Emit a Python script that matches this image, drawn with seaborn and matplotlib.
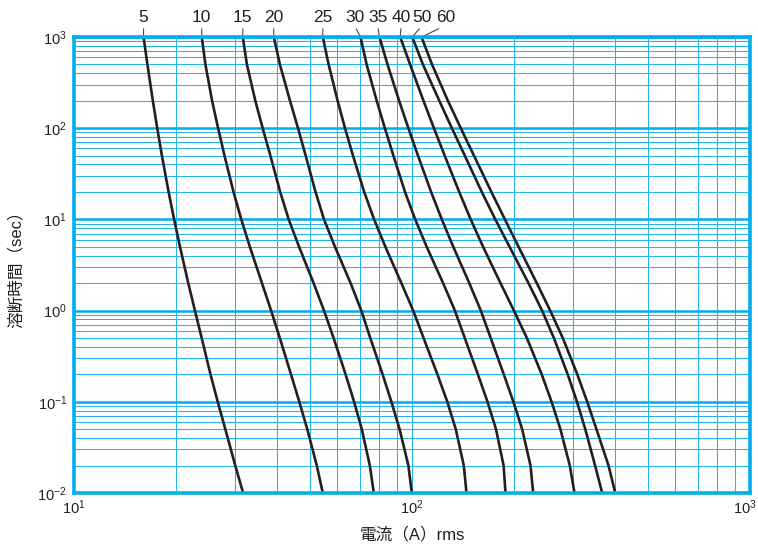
import matplotlib
matplotlib.use("Agg")
import matplotlib.pyplot as plt
from matplotlib.ticker import FixedLocator, FixedFormatter, LogLocator, NullFormatter
from matplotlib.transforms import ScaledTranslation
import pandas as pd
import seaborn as sns

# Melting-time checkpoints shared by every curve (sec)
times = [1000, 500, 200, 100, 50, 20, 10, 5, 2, 1, 0.5, 0.2, 0.1, 0.05, 0.02, 0.01]

# Current (A rms) at which each fuse rating melts at the checkpoints above
amp_5 = [16.06, 16.49, 17.11, 17.63, 18.20, 19.05, 19.78, 20.59, 21.78, 22.79, 23.87, 25.34, 26.62, 28.04, 30.00, 31.65]
amp_10 = [23.88, 24.48, 25.62, 26.69, 27.88, 29.64, 31.26, 33.14, 35.99, 38.30, 40.64, 43.85, 46.41, 49.00, 52.28, 54.46]
amp_15 = [31.58, 32.47, 34.39, 36.16, 38.11, 40.74, 43.17, 46.34, 51.16, 54.91, 58.62, 63.61, 67.41, 71.04, 75.02, 77.09]
amp_20 = [39.00, 40.66, 43.56, 46.00, 48.47, 51.82, 54.91, 59.18, 65.82, 70.80, 75.27, 81.85, 86.91, 91.90, 97.58, 99.86]
amp_25 = [54.46, 56.66, 60.24, 63.36, 66.90, 72.20, 77.25, 83.43, 93.03, 100.82, 108.22, 118.89, 127.19, 134.77, 142.31, 144.96]
amp_30 = [70.42, 73.41, 78.63, 83.14, 88.10, 95.34, 102.21, 110.55, 123.60, 133.94, 143.29, 156.66, 167.25, 177.25, 186.64, 189.07]
amp_35 = [80.14, 84.63, 91.59, 97.58, 104.17, 113.89, 122.53, 132.49, 147.75, 159.79, 170.95, 186.89, 199.53, 211.86, 224.17, 228.32]
amp_40 = [92.27, 98.71, 108.14, 116.10, 124.96, 137.92, 149.16, 162.31, 182.74, 200.20, 218.74, 241.95, 258.83, 274.83, 292.99, 302.54]
amp_50 = [100.14, 107.71, 120.44, 131.23, 143.29, 160.88, 176.38, 194.43, 221.14, 242.61, 262.92, 288.82, 307.73, 325.62, 348.10, 365.37]
amp_60 = [106.69, 114.61, 127.71, 139.43, 152.56, 171.76, 188.31, 206.71, 234.00, 256.39, 279.37, 308.35, 329.86, 351.42, 381.37, 399.46]

ratings = ["5", "10", "15", "20", "25", "30", "35", "40", "50", "60"]
currents = [amp_5, amp_10, amp_15, amp_20, amp_25, amp_30, amp_35, amp_40, amp_50, amp_60]

x_ticks = [10, 100, 1000]
x_tick_labels = [r"$\mathregular{10^{1}}$", r"$\mathregular{10^{2}}$", r"$\mathregular{10^{3}}$"]
y_ticks = [0.01, 0.1, 1, 10, 100, 1000]
y_tick_labels = [r"$\mathregular{10^{-2}}$", r"$\mathregular{10^{-1}}$", r"$\mathregular{10^{0}}$",
                 r"$\mathregular{10^{1}}$", r"$\mathregular{10^{2}}$", r"$\mathregular{10^{3}}$"]

x_title = "電流（A）rms"
y_title = "溶断時間（sec）"

df = pd.concat(
    [pd.DataFrame({"rating": r, "current": c, "time": times}) for r, c in zip(ratings, currents)],
    ignore_index=True,
)

sns.set_theme(style="white")
plt.rcParams["font.family"] = ["Liberation Sans", "Noto Sans CJK JP", "DejaVu Sans"]

BLUE = "#00AEEF"
GRID = "#22B5EE"
INK = "#231F20"

fig = plt.figure(figsize=(7.58, 5.44), dpi=100)
ax = fig.add_axes([74 / 758, 1 - 493 / 544, 676 / 758, 456 / 544])

sns.lineplot(
    data=df, x="current", y="time", hue="rating",
    palette=[INK] * len(ratings), estimator=None, sort=False,
    linewidth=1.9, legend=False, ax=ax, zorder=5,
)
for ln in ax.get_lines():
    ln.set_solid_joinstyle("round")
    ln.set_solid_capstyle("butt")

ax.set_xscale("log")
ax.set_yscale("log")
ax.set_xlim(10, 1000)
ax.set_ylim(0.01, 1000)

ax.xaxis.set_major_locator(FixedLocator(x_ticks))
ax.xaxis.set_major_formatter(FixedFormatter(x_tick_labels))
ax.yaxis.set_major_locator(FixedLocator(y_ticks))
ax.yaxis.set_major_formatter(FixedFormatter(y_tick_labels))
ax.xaxis.set_minor_locator(LogLocator(base=10, subs=range(2, 10), numticks=20))
ax.yaxis.set_minor_locator(LogLocator(base=10, subs=range(2, 10), numticks=20))
ax.xaxis.set_minor_formatter(NullFormatter())
ax.yaxis.set_minor_formatter(NullFormatter())

ax.tick_params(which="both", length=0)
ax.tick_params(axis="x", labelsize=10.5, pad=4, colors=INK)
ax.tick_params(axis="y", labelsize=10.5, pad=5, colors=INK)

# blue graph-paper grid: heavy decade rules across, light rules elsewhere
ax.xaxis.grid(True, which="both", color=GRID, linewidth=0.75)
ax.yaxis.grid(True, which="minor", color=GRID, linewidth=0.75)
ax.yaxis.grid(True, which="major", color=BLUE, linewidth=1.8)
ax.set_axisbelow(True)
for sp in ax.spines.values():
    sp.set_visible(True)
    sp.set_color(BLUE)
    sp.set_linewidth(2.6)
    sp.set_zorder(6)

ax.set_xlabel(x_title, fontsize=12, color=INK, ha="center", va="center")
ax.xaxis.set_label_coords(0.5, -0.092)
ax.set_ylabel(y_title, fontsize=12, color=INK, ha="center", va="center")
ax.yaxis.set_label_coords(-0.086, 0.5)

# rating labels above the curve tops, with short leader lines
label_offsets = {"30": (-4.3, 13.7), "35": (-1.4, 13.7), "40": (0.7, 13.7),
                 "50": (7.2, 13.7), "60": (17.3, 13.7)}
for r, c in zip(ratings, currents):
    dx, dy = label_offsets.get(r, (0.0, 13.7))
    ax.annotate(
        r, xy=(c[0], times[0]), xytext=(dx, dy), textcoords="offset points",
        ha="center", va="center", fontsize=12.5, color=INK, annotation_clip=False,
        arrowprops=dict(arrowstyle="-", color="#4a4a4a", lw=0.8,
                        shrinkA=0, shrinkB=0, relpos=(0.5, 0.0)),
    )

# keep the right-hand x tick label inside the canvas
fig.canvas.draw()
last = ax.get_xticklabels()[-1]
last.set_transform(last.get_transform() + ScaledTranslation(-0.05, 0, fig.dpi_scale_trans))

fig.savefig("out.png", dpi=100)
